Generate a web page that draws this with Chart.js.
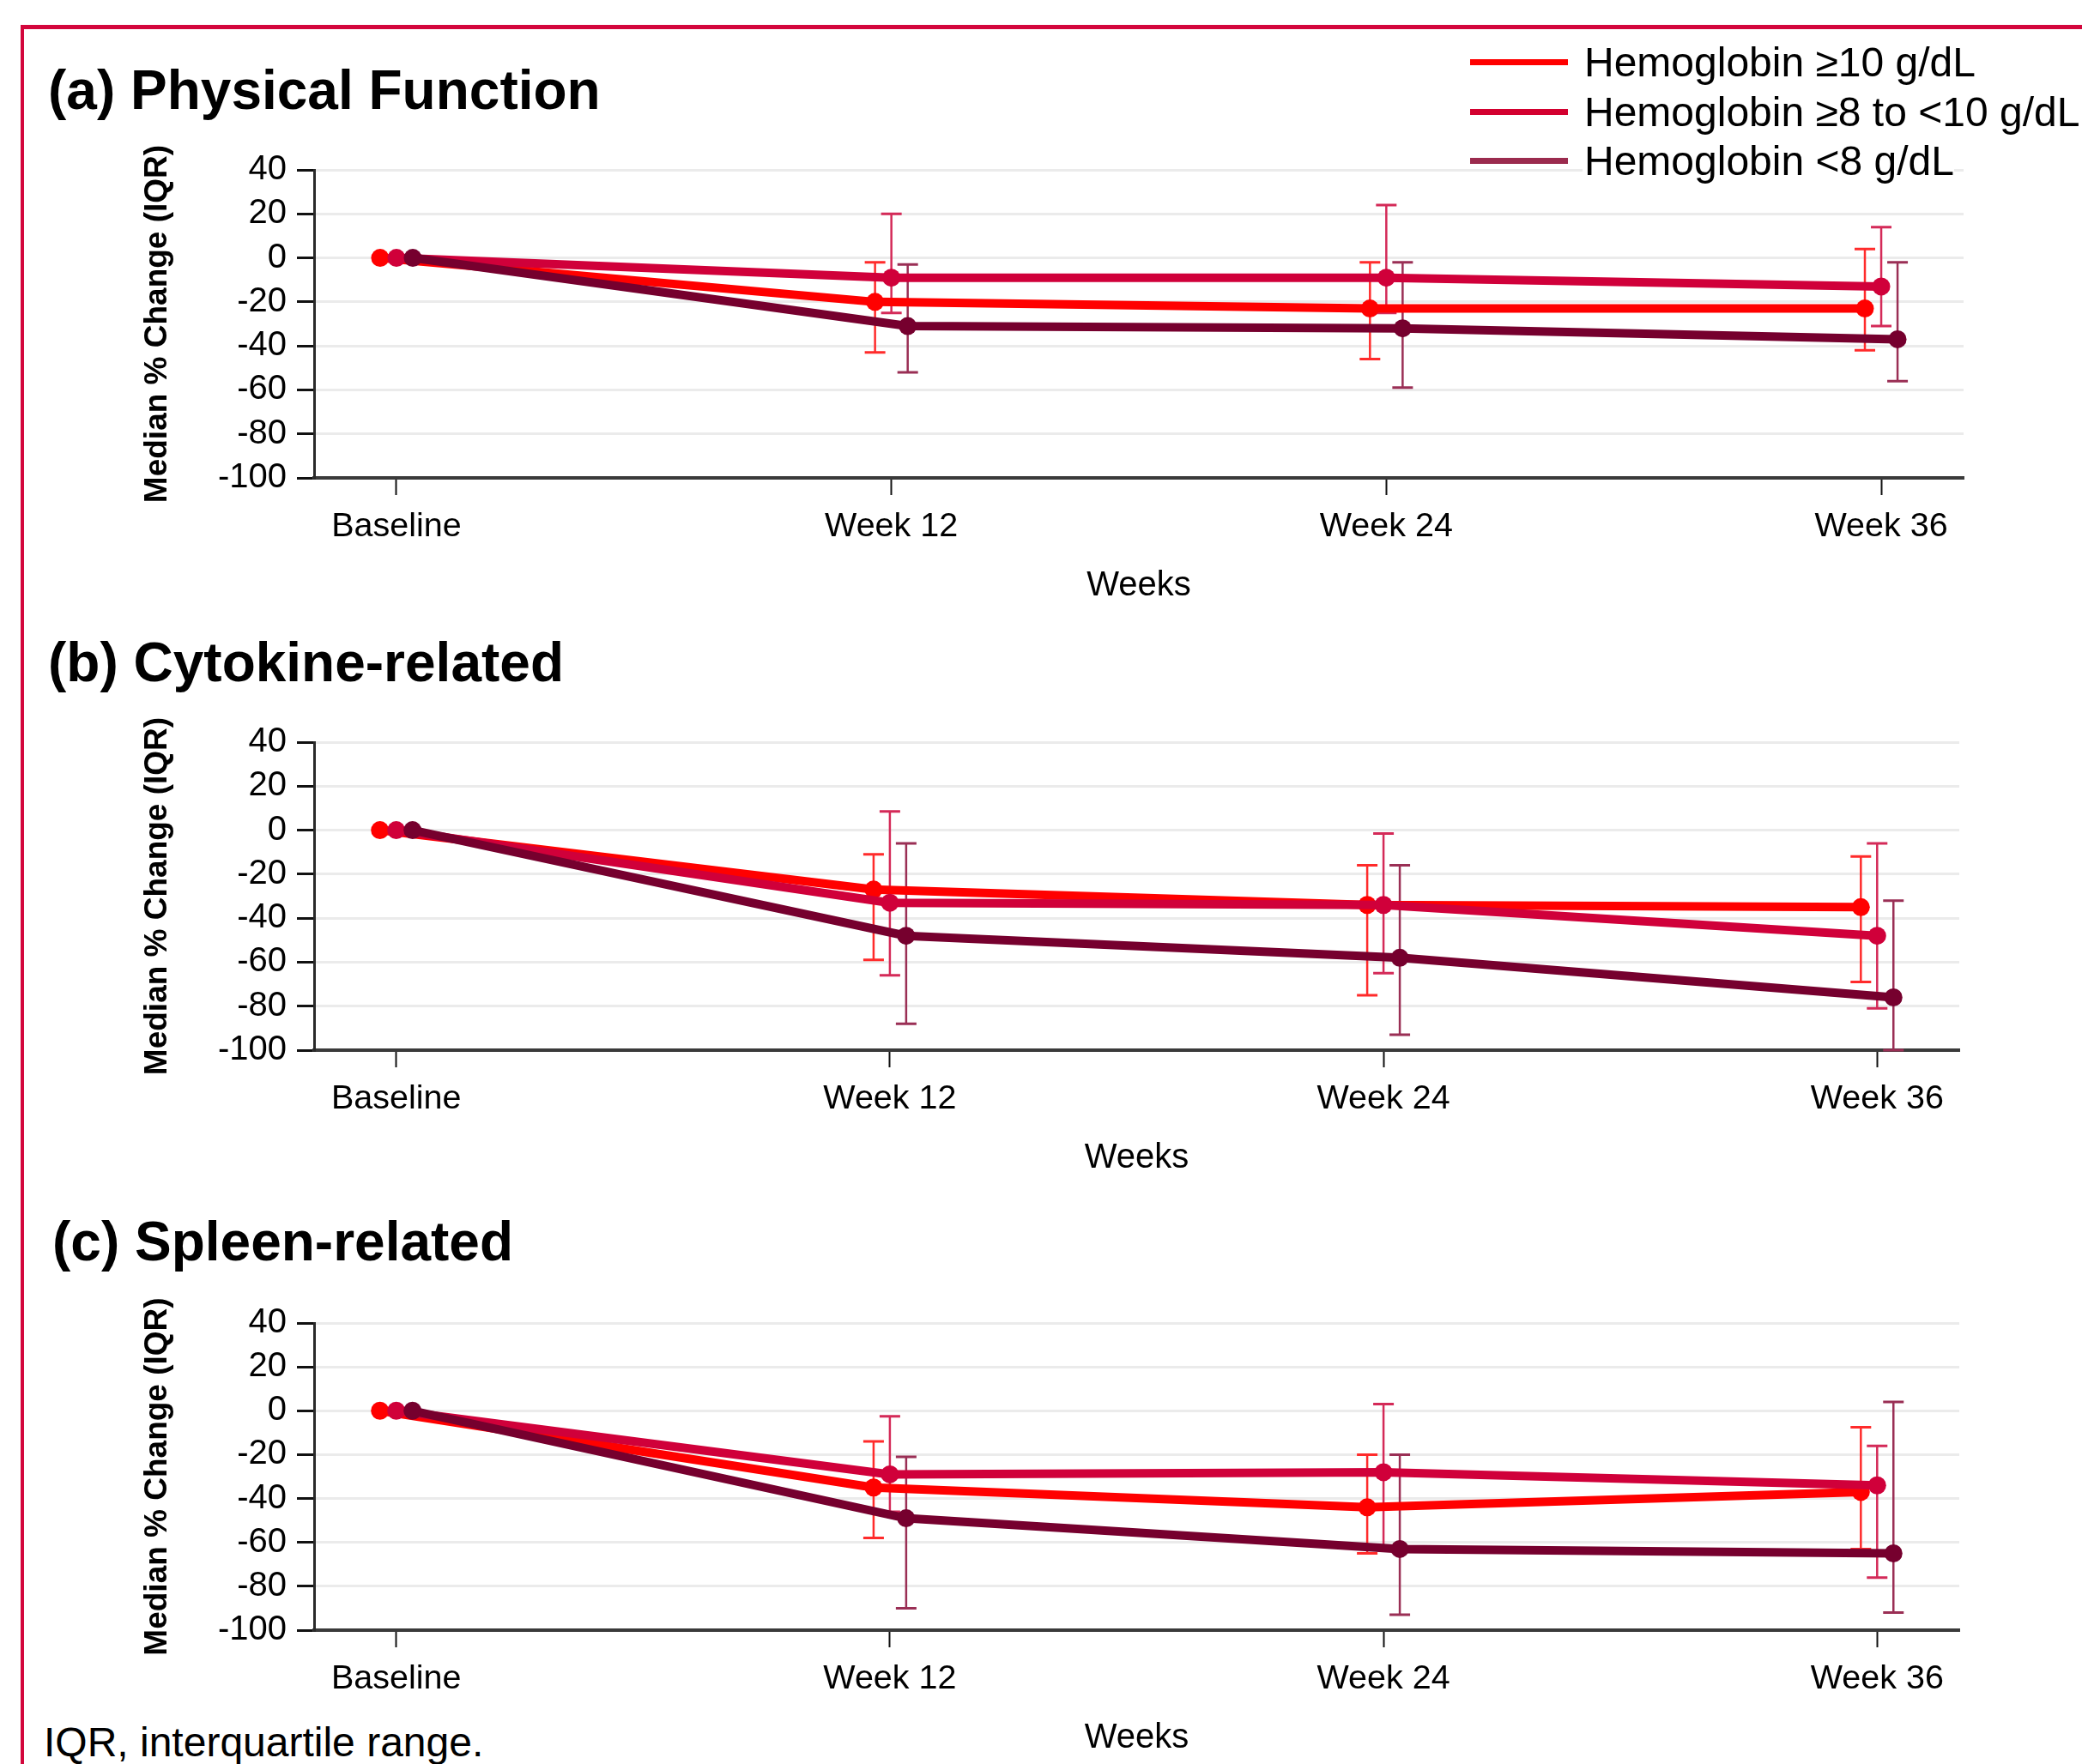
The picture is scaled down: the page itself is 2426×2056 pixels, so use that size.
<!DOCTYPE html>
<html>
<head>
<meta charset="utf-8">
<script src="https://cdn.jsdelivr.net/npm/chart.js@4.4.1/dist/chart.umd.min.js"></script>
<style>
  html, body { margin: 0; padding: 0; background: #fff; }
  body { width: 2426px; height: 2056px; position: relative; overflow: hidden;
         font-family: 'Liberation Sans', Arial, Helvetica, sans-serif; color: #000; }
  .frame { position: absolute; left: 24px; top: 29px; width: 2600px; height: 2200px;
           border-top: 5px solid #D3063C; border-left: 4px solid #D3063C; }
  .ptitle { position: absolute; font-weight: bold; font-size: 64px; line-height: 64px; white-space: nowrap; }
  .legend { position: absolute; left: 1713px; top: 44px; z-index: 5; }
  .legend .row { display: flex; align-items: center; height: 57.5px; }
  .legend .sw { width: 114px; height: 7px; margin-right: 19px; }
  .legend .lbl { font-size: 48px; line-height: 57.5px; white-space: nowrap; background: #fff; padding-left: 2px; margin-left: -2px; }
  .foot { position: absolute; left: 51px; top: 2007px; font-size: 48px; line-height: 47px; white-space: nowrap; }
  canvas { position: absolute; left: 0; }
</style>
</head>
<body>
<div class="frame"></div>
<div class="ptitle" style="left:56px; top:73px;">(a) Physical Function</div>
<div class="ptitle" style="left:56px; top:740px;">(b) Cytokine-related</div>
<div class="ptitle" style="left:61px; top:1415px;">(c) Spleen-related</div>
<div class="foot">IQR, interquartile range.</div>
<canvas id="cA" width="2426" height="557" style="top:150px"></canvas>
<canvas id="cB" width="2426" height="554" style="top:820px"></canvas>
<canvas id="cC" width="2426" height="555" style="top:1495px"></canvas>
<div class="legend" id="legend"></div>
<script>
// ---- Data ----
const weekLabels = ['Baseline', 'Week 12', 'Week 24', 'Week 36'];
const seriesNames = ['Hemoglobin \u226510 g/dL', 'Hemoglobin \u22658 to <10 g/dL', 'Hemoglobin <8 g/dL'];
const yTicks = [40, 20, 0, -20, -40, -60, -80, -100];

// (a) Physical Function: median, 25th pct (low), 75th pct (high)
const physHb10Median = [0, -20, -23, -23];
const physHb10Low    = [0, -43, -46, -42];
const physHb10High   = [0, -2, -2, 4];
const physHb8Median  = [0, -9, -9, -13];
const physHb8Low     = [0, -25, -25, -31];
const physHb8High    = [0, 20, 24, 14];
const physHbLt8Median = [0, -31, -32, -37];
const physHbLt8Low    = [0, -52, -59, -56];
const physHbLt8High   = [0, -3, -2, -2];

// (b) Cytokine-related
const cytoHb10Median = [0, -27, -34, -35];
const cytoHb10Low    = [0, -59, -75, -69];
const cytoHb10High   = [0, -11, -16, -12];
const cytoHb8Median  = [0, -33, -34, -48];
const cytoHb8Low     = [0, -66, -65, -81];
const cytoHb8High    = [0, 8.5, -1.5, -6];
const cytoHbLt8Median = [0, -48, -58, -76];
const cytoHbLt8Low    = [0, -88, -93, -100];
const cytoHbLt8High   = [0, -6, -16, -32];

// (c) Spleen-related
const splHb10Median = [0, -35, -44, -37];
const splHb10Low    = [0, -58, -65, -63];
const splHb10High   = [0, -14, -20, -7.5];
const splHb8Median  = [0, -29, -28, -34];
const splHb8Low     = [0, -46, -62, -76];
const splHb8High    = [0, -2.5, 3, -16];
const splHbLt8Median = [0, -49, -63, -65];
const splHbLt8Low    = [0, -90, -93, -92];
const splHbLt8High   = [0, -21, -20, 4];

// ---- Styles ----
const lineColors = ['#FF0000', '#D0003A', '#76002E'];
const errColors  = ['#FF2B2B', '#D42A58', '#9A2F55'];
const legendColors = ['#FF0000', '#D3002F', '#9B2B4E'];
const dodge = [-0.033, 0, 0.033];
const FONT = "'Liberation Sans', Arial, sans-serif";

// legend
const lg = document.getElementById('legend');
seriesNames.forEach((n, i) => {
  const r = document.createElement('div'); r.className = 'row';
  const s = document.createElement('div'); s.className = 'sw'; s.style.background = legendColors[i];
  const t = document.createElement('div'); t.className = 'lbl'; t.textContent = n;
  r.appendChild(s); r.appendChild(t); lg.appendChild(r);
});

const iqrPlugin = {
  id: 'iqrBars',
  beforeDatasetsDraw(chart) {
    const { ctx, scales: { x, y } } = chart;
    chart.data.datasets.forEach((ds) => {
      ds.iqrLow.forEach((lo, j) => {
        const hi = ds.iqrHigh[j];
        if (lo === hi) return;
        const px = x.getPixelForValue(ds.data[j].x);
        const pLo = y.getPixelForValue(lo), pHi = y.getPixelForValue(hi);
        ctx.save();
        ctx.strokeStyle = ds.errColor;
        ctx.lineWidth = 2.5;
        ctx.beginPath();
        ctx.moveTo(px, pLo); ctx.lineTo(px, pHi);
        ctx.stroke();
        ctx.lineWidth = 3;
        ctx.beginPath();
        ctx.moveTo(px - 12, pLo); ctx.lineTo(px + 12, pLo);
        ctx.moveTo(px - 12, pHi); ctx.lineTo(px + 12, pHi);
        ctx.stroke();
        ctx.restore();
      });
    });
  }
};

function makeDatasets(medians, lows, highs) {
  return medians.map((m, i) => ({
    label: seriesNames[i],
    data: m.map((v, j) => ({ x: j + dodge[i], y: v })),
    iqrLow: lows[i],
    iqrHigh: highs[i],
    errColor: errColors[i],
    borderColor: lineColors[i],
    backgroundColor: lineColors[i],
    pointBackgroundColor: lineColors[i],
    pointBorderWidth: 0,
    pointRadius: 10.5,
    borderWidth: 10,
    tension: 0,
    order: 3 - i
  }));
}

function makeChart(id, datasets, padTop, padRight) {
  new Chart(document.getElementById(id), {
    type: 'line',
    data: { datasets },
    plugins: [iqrPlugin],
    options: {
      responsive: false,
      animation: false,
      events: [],
      layout: { padding: { top: padTop, right: padRight, bottom: 0, left: 0 } },
      plugins: { legend: { display: false }, tooltip: { enabled: false }, title: { display: false } },
      scales: {
        x: {
          type: 'linear',
          min: -0.1664, max: 3.1664,
          afterBuildTicks: (s) => { s.ticks = weekLabels.map((_, i) => ({ value: i })); },
          afterFit: (s) => { s.height = 150; },
          ticks: {
            autoSkip: false, maxRotation: 0, minRotation: 0, padding: 13,
            color: '#000', font: { family: FONT, size: 39.5 },
            callback: (v) => weekLabels[v]
          },
          grid: { drawOnChartArea: false, drawTicks: true, tickLength: 20, tickColor: '#111', tickWidth: 2 },
          border: { display: true, color: '#3a3a3a', width: 4 },
          title: { display: true, text: 'Weeks', color: '#000', font: { family: FONT, size: 40 }, padding: 0 }
        },
        y: {
          min: -100, max: 40,
          afterBuildTicks: (s) => { s.ticks = yTicks.map(v => ({ value: v })); },
          afterFit: (s) => { s.width = 366; },
          ticks: { padding: 12, color: '#000', font: { family: FONT, size: 40 } },
          grid: { color: '#ebebeb', lineWidth: 3, drawTicks: true, tickLength: 20, tickColor: '#111', tickWidth: 3 },
          border: { display: true, color: '#2a2a2a', width: 3 },
          title: { display: true, text: 'Median % Change (IQR)', color: '#000',
                   font: { family: FONT, size: 37, weight: 'bold' }, padding: { top: 162, bottom: 0 } }
        }
      }
    }
  });
}

makeChart('cA', makeDatasets(
  [physHb10Median, physHb8Median, physHbLt8Median],
  [physHb10Low, physHb8Low, physHbLt8Low],
  [physHb10High, physHb8High, physHbLt8High]), 48, 138);

makeChart('cB', makeDatasets(
  [cytoHb10Median, cytoHb8Median, cytoHbLt8Median],
  [cytoHb10Low, cytoHb8Low, cytoHbLt8Low],
  [cytoHb10High, cytoHb8High, cytoHbLt8High]), 45, 143);

makeChart('cC', makeDatasets(
  [splHb10Median, splHb8Median, splHbLt8Median],
  [splHb10Low, splHb8Low, splHbLt8Low],
  [splHb10High, splHb8High, splHbLt8High]), 47, 143);
</script>
</body>
</html>
